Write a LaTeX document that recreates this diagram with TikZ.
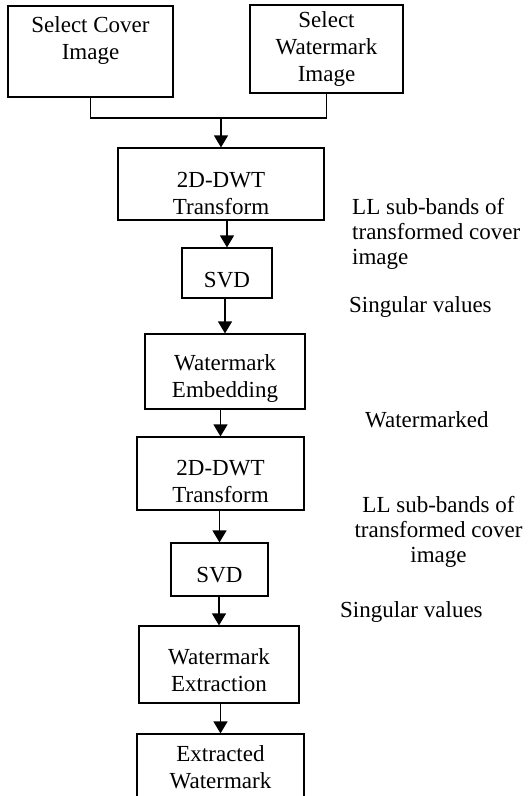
\documentclass[tikz,border=0pt]{standalone}
\usepackage{fontspec}
\setmainfont{Liberation Serif}
\usetikzlibrary{arrows.meta}
\usetikzlibrary{positioning}

\newcommand{\boxpad}[1]{\rule{0pt}{#1pt}}

\begin{document}
\begin{tikzpicture}[x=1pt,y=-1pt,
  arr/.style={line width=1.2pt,-{Triangle[width=14pt,length=12pt]}}]
\useasboundingbox (0,0) rectangle (530,796);
\begin{scope}[every node/.style={draw,line width=1.2pt,align=center,inner sep=0pt,
  font=\fontsize{23}{27}\selectfont}]
\node[minimum width=165,minimum height=91] (cover) at (90.5,51.5) {Select Cover\\Image\\~};
\node[minimum width=153,minimum height=88] (wm) at (326.5,49) {Select\\Watermark\\Image};
\node[minimum width=206,minimum height=72] (dwt1) at (221,184) {\boxpad{34.5}2D-DWT\\Transform};
\node[minimum width=90,minimum height=50] (svd1) at (227,273) {\boxpad{29.5}SVD};
\node[minimum width=160,minimum height=75] (emb) at (225,371.5) {\boxpad{30.3}Watermark\\Embedding};
\node[minimum width=167,minimum height=73] (dwt2) at (220.5,473.5) {\boxpad{31.5}2D-DWT\\Transform};
\node[minimum width=97,minimum height=53] (svd2) at (219.5,569.5) {\boxpad{26.5}SVD};
\node[minimum width=160,minimum height=77] (ext) at (219,664.5) {\boxpad{27.5}Watermark\\Extraction};
\node[minimum width=167,minimum height=66] (out) at (220.5,767) {Extracted\\Watermark};
\end{scope}
\coordinate (jn) at (221,118);
\draw[line width=1.2pt] (cover) |- (jn) -| (wm);
\draw[arr] (jn) -- (dwt1);
\draw[arr] (svd1 |- dwt1.south) -- (svd1);
\draw[arr] (emb |- svd1.south) -- (emb);
\draw[arr] (dwt2 |- emb.south) -- (dwt2);
\draw[arr] (svd2 |- dwt2.south) -- (svd2);
\draw[arr] (ext |- svd2.south) -- (ext);
\draw[arr] (out |- ext.south) -- (out);
\begin{scope}[every node/.style={inner sep=0pt,font=\fontsize{23}{25}\selectfont}]
\node[anchor=west,align=left] (ll1) at (352,233.75) {LL sub-bands of\\transformed cover\\image};
\node[anchor=west] (sv1) at (349,307) {Singular values};
\node[anchor=west] (wmk) at (365,420) {Watermarked};
\node[align=center] (ll2) at (438.5,532) {LL sub-bands of\\transformed cover\\image};
\node[anchor=west] (sv2) at (340,612) {Singular values};
\end{scope}
\end{tikzpicture}
\end{document}
